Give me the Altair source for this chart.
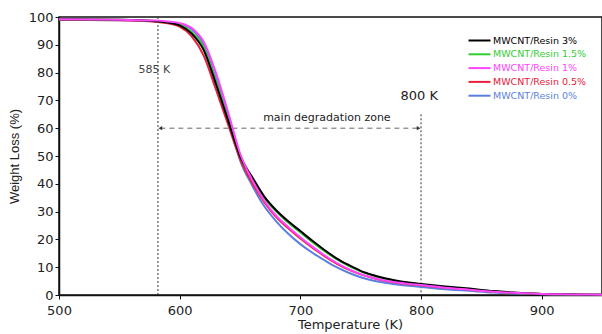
import altair as alt
import pandas as pd

temps = [500, 550, 580, 590, 600, 610, 620, 630, 640, 650, 660, 670, 680, 690, 700,
         710, 720, 730, 740, 750, 760, 770, 780, 790, 800, 820, 840, 860, 880, 900, 925, 950]

series_names = ["MWCNT/Resin 3%", "MWCNT/Resin 1.5%", "MWCNT/Resin 1%",
                "MWCNT/Resin 0.5%", "MWCNT/Resin 0%"]
series_colors = ["#000000", "#33cc33", "#ff44ff", "#e8203a", "#5b7fe0"]

w_3 = [99.2, 99.0, 98.5, 98.0, 97.0, 94.0, 88.0, 76.0, 63.0, 50.0, 42.5, 35.5, 30.5, 26.5, 23.0,
       19.5, 16.2, 13.2, 10.8, 8.7, 7.2, 6.0, 5.1, 4.5, 4.0, 3.1, 2.3, 1.4, 0.8, 0.4, 0.2, 0.1]
w_15 = [99.2, 99.0, 98.6, 98.1, 97.2, 94.5, 89.0, 77.0, 63.5, 50.0, 42.0, 35.0, 30.0, 26.0, 22.5,
        19.0, 15.8, 12.9, 10.5, 8.5, 7.0, 5.8, 4.9, 4.3, 3.8, 2.9, 2.1, 1.3, 0.7, 0.4, 0.2, 0.1]
w_1 = [99.2, 99.0, 98.7, 98.4, 97.8, 96.0, 91.0, 80.0, 66.0, 51.0, 41.5, 34.0, 28.5, 24.5, 20.8,
       17.4, 14.3, 11.6, 9.3, 7.5, 6.2, 5.2, 4.5, 4.0, 3.6, 2.6, 1.9, 1.2, 0.7, 0.35, 0.2, 0.1]
w_05 = [99.0, 98.8, 98.3, 97.7, 96.5, 93.0, 86.0, 74.0, 61.5, 49.0, 40.5, 33.5, 28.0, 24.0, 20.3,
        17.0, 14.0, 11.3, 9.1, 7.4, 6.1, 5.1, 4.4, 3.9, 3.5, 2.6, 1.9, 1.2, 0.7, 0.35, 0.2, 0.1]
w_0 = [99.0, 98.8, 98.5, 98.1, 97.5, 95.5, 90.0, 78.0, 64.5, 48.5, 39.5, 32.0, 26.5, 22.0, 18.3,
       15.2, 12.5, 10.0, 8.0, 6.4, 5.2, 4.4, 3.8, 3.3, 2.9, 2.1, 1.5, 0.9, 0.5, 0.3, 0.15, 0.1]
all_series = [w_3, w_15, w_1, w_05, w_0]
draw_order = [4, 3, 1, 0, 2]

x_ticks = [500, 600, 700, 800, 900]
y_ticks = [0, 10, 20, 30, 40, 50, 60, 70, 80, 90, 100]

# annotation values
vline_T = [582, 800]
vline_top = [100, 65]
zone_start, zone_end, zone_level = 582, 800, 60
label_585 = ("585 K", 579, 81)
label_800 = ("800 K", 798.5, 71.5)
label_zone = ("main degradation zone", 722, 63.5)

rows = []
for k, idx in enumerate(draw_order):
    for t, w in zip(temps, all_series[idx]):
        rows.append({"T": t, "W": w, "series": series_names[idx], "order": k})
df = pd.DataFrame(rows)

FONT = "DejaVu Sans"

xscale = alt.Scale(domain=[500, 950], nice=False)
yscale = alt.Scale(domain=[0, 100], nice=False)
xaxis = alt.Axis(values=x_ticks, title="Temperature (K)", titleX=291, titlePadding=1,
                 labelFlush=False, labelOverlap=False, labelPadding=5)
yaxis = alt.Axis(values=y_ticks, title="Weight Loss (%)", titlePadding=7,
                 labelOverlap=False, labelFlush=False, labelPadding=2,
                 titleFont="Liberation Sans", titleFontSize=13)

def X(field):
    return alt.X(field, scale=xscale, axis=xaxis)

def Y(field):
    return alt.Y(field, scale=yscale, axis=yaxis)

color_expr = " : ".join(
    [f"datum.label == '{n}' ? '{c}'" for n, c in zip(series_names, series_colors)]
) + " : 'black'"

lines = alt.Chart(df).mark_line(strokeWidth=2, interpolate="monotone").encode(
    x=X("T:Q"),
    y=Y("W:Q"),
    color=alt.Color("series:N", sort=series_names,
                    scale=alt.Scale(domain=series_names, range=series_colors),
                    legend=alt.Legend(title=None, orient="none", legendX=414, legendY=17,
                                      symbolType="M-2,0H2", symbolSize=121,
                                      symbolStrokeWidth=2, labelFontSize=9.5,
                                      labelFont=FONT,
                                      labelColor=alt.ExprRef(color_expr),
                                      rowPadding=2.8, labelOffset=7)),
    detail="order:N",
    order=alt.Order("order:Q"),
)

vdf = pd.DataFrame({"T": vline_T, "top": vline_top, "bot": [0, 0]})
vlines = alt.Chart(vdf).mark_rule(color="#333333", strokeDash=[2, 2], strokeWidth=1).encode(
    x=X("T:Q"), y=Y("top:Q"), y2="bot:Q")

zdf = pd.DataFrame({"a": [zone_start + 2], "b": [zone_end - 2], "lvl": [zone_level]})
zone = alt.Chart(zdf).mark_rule(color="#666666", strokeDash=[5, 4], strokeWidth=1).encode(
    x=X("a:Q"), x2="b:Q", y=Y("lvl:Q"))

adf = pd.DataFrame({"T": [zone_start + 2, zone_end - 2], "W": [zone_level, zone_level],
                    "shape": ["triangle-left", "triangle-right"]})
arrows = alt.Chart(adf).mark_point(filled=True, size=18, color="#333333", opacity=1).encode(
    x=X("T:Q"), y=Y("W:Q"),
    shape=alt.Shape("shape:N", scale=None))

def text_layer(item, size, color):
    tdf = pd.DataFrame({"txt": [item[0]], "T": [item[1]], "W": [item[2]]})
    return alt.Chart(tdf).mark_text(font=FONT, fontSize=size, color=color).encode(
        x=X("T:Q"), y=Y("W:Q"), text="txt:N")

t585 = text_layer(label_585, 11, "#444444")
t800 = text_layer(label_800, 13, "#222222")
tzone = text_layer(label_zone, 11, "#222222")

chart = alt.layer(vlines, zone, arrows, lines, t585, t800, tzone).properties(
    width=543, height=278,
    autosize=alt.AutoSizeParams(type="none"),
    padding={"left": 59, "top": 17, "right": 0, "bottom": 39},
    background="white",
).configure_view(stroke="#111111", strokeWidth=1.5).configure_axis(
    grid=False, domainColor="#111111", domainWidth=1.5, tickColor="#111111", tickSize=4,
    labelFont=FONT, labelFontSize=13, labelColor="#222222",
    titleFont=FONT, titleFontSize=13, titleColor="#222222",
    titleFontWeight="normal",
)

chart.save("out.html", embed_options={"renderer": "svg", "actions": False})
